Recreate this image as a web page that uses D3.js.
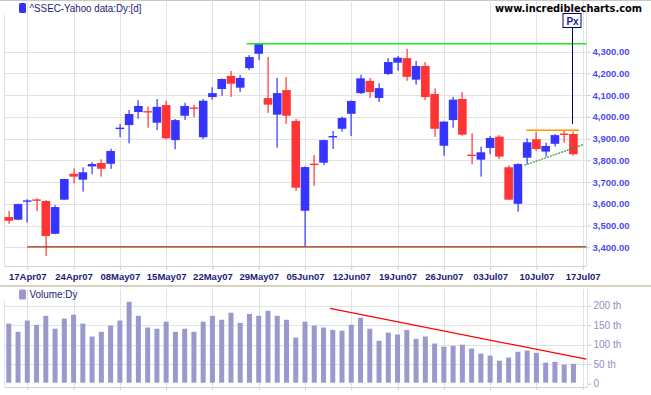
<!DOCTYPE html>
<html>
<head>
<meta charset="utf-8">
<script src="https://cdn.jsdelivr.net/npm/d3@7"></script>
<style>
  body { margin: 0; background: #fff; }
  svg text { font-family: "Liberation Sans", Arial, sans-serif; }
</style>
</head>
<body>
<svg id="chart" width="651" height="395"></svg>
<script>
// trading days, Shanghai composite, daily
var dates = ["2007-04-13","2007-04-16","2007-04-17","2007-04-18","2007-04-19","2007-04-20","2007-04-23","2007-04-24","2007-04-25","2007-04-26",
    "2007-04-27","2007-04-30","2007-05-08","2007-05-09","2007-05-10","2007-05-11","2007-05-14","2007-05-15","2007-05-16","2007-05-17",
    "2007-05-18","2007-05-21","2007-05-22","2007-05-23","2007-05-24","2007-05-25","2007-05-28","2007-05-29","2007-05-30","2007-05-31",
    "2007-06-01","2007-06-04","2007-06-05","2007-06-06","2007-06-07","2007-06-08","2007-06-11","2007-06-12","2007-06-13","2007-06-14",
    "2007-06-15","2007-06-18","2007-06-19","2007-06-20","2007-06-21","2007-06-22","2007-06-25","2007-06-26","2007-06-27","2007-06-28",
    "2007-06-29","2007-07-02","2007-07-03","2007-07-04","2007-07-05","2007-07-06","2007-07-09","2007-07-10","2007-07-11","2007-07-12",
    "2007-07-13","2007-07-16"];
var opens  = [3539,3527,3611,3618,3613,3462,3619,3738,3711,3772,3788,3784,3945,3962,4022,4025,3973,4054,3893,4005,
              4041,3906,4091,4128,4188,4134,4224,4290,4086,4010,4123,3981,3568,3783,3789,3907,3945,4014,4109,4165,
              4087,4197,4249,4270,4171,4234,4105,3867,3985,4082,3824,3803,3857,3909,3768,3600,3812,3897,3840,3876,
              3921,3921];
var highs  = [3567,3601,3621,3625,3617,3594,3716,3763,3768,3791,3805,3853,3967,4031,4077,4047,4082,4074,3990,4065,
              4056,4082,4136,4176,4211,4192,4284,4338,4275,4179,4183,3990,3772,3824,3895,3935,4001,4075,4194,4179,
              4155,4270,4280,4312,4257,4252,4131,3980,4092,4114,3924,3863,3912,3916,3777,3786,3901,3932,3881,3920,
              3939,3932];
var lows   = [3508,3525,3513,3567,3360,3460,3617,3694,3656,3736,3725,3761,3906,3878,3991,3950,3939,3897,3851,3985,
              3998,3897,4079,4097,4092,4114,4215,4261,4018,3858,3968,3659,3404,3683,3778,3852,3932,3912,4105,4087,
              4068,4192,4212,4166,4148,4077,3908,3821,3950,3913,3782,3725,3828,3805,3619,3564,3782,3844,3817,3863,
              3881,3821];
var closes = [3522,3599,3614,3616,3452,3585,3714,3725,3745,3783,3761,3843,3949,4013,4050,4021,4046,3901,3985,4050,
              4039,4074,4109,4174,4152,4179,4275,4336,4056,4109,4005,3674,3769,3780,3893,3910,3995,4073,4177,4114,
              4132,4252,4272,4184,4234,4091,3945,3978,4079,3918,3822,3837,3903,3817,3619,3783,3883,3852,3866,3916,
              3919,3828];
// volume, thousands
var volumes = [154,133,162,151,174,141,167,177,154,121,133,149,162,210,174,144,141,159,133,141,
               133,159,174,164,182,156,179,174,187,174,164,118,159,149,144,138,136,151,169,141,
               110,131,126,138,115,121,103,95,97,100,90,77,72,59,67,82,85,79,54,56,49,51];

var tickDates  = ["2007-04-17","2007-04-24","2007-05-08","2007-05-15","2007-05-22","2007-05-29","2007-06-05",
                  "2007-06-12","2007-06-19","2007-06-26","2007-07-03","2007-07-10","2007-07-17"];
var tickLabels = ["17Apr07","24Apr07","08May07","15May07","22May07","29May07","05Jun07",
                  "12Jun07","19Jun07","26Jun07","03Jul07","10Jul07","17Jul07"];
var priceTicks = [3400,3500,3600,3700,3800,3900,4000,4100,4200,4300];
var volTicks = [0,50,100,150,200];
var volTickLabels = ["0","50 th","100 th","150 th","200 th"];

// drawn lines, in bar index / value
var resistance = [{i: 25.7, v: 4336}, {i: 62.4, v: 4336}];
var support    = [{i: 2.0, v: 3402}, {i: 62.4, v: 3402}];
var flagTop    = [{i: 55.9, v: 3938}, {i: 61.6, v: 3938}];
var flagBottom = [{i: 55.7, v: 3777}, {i: 62.1, v: 3873}];
var volTrend   = [{i: 34.7, v: 193}, {i: 62.4, v: 63}];
var pxMarker   = {i: 61, v: 3967};

var svg = d3.select('#chart');
var left = 4.5, right = 586.5;
var pTop = 2, pBottom = 266, vTop = 289, vBottom = 387;

// bar index -> x  (17Jul07 is one step past the last bar)
var tickIndex = tickDates.map(function (d) {
    var k = dates.indexOf(d);
    return k < 0 ? dates.length : k;
});
var xScale = d3.scaleLinear().domain([0, 62]).range([8.79, 582.7]);
var yScale = d3.scaleLinear().domain([3400, 4300]).range([247.3, 51.6]);
var vScale = d3.scaleLinear().domain([0, 200]).range([383.7, 305.7]);

var grid = '#e2e2e2';

// frame / separators
svg.append('rect').attr('x', 0).attr('y', 0).attr('width', 651).attr('height', 1).attr('fill', '#c8c8c8');
svg.append('rect').attr('x', 0).attr('y', 285).attr('width', 651).attr('height', 2).attr('fill', '#d6d2c2');

// grid, price panel
svg.selectAll('.hg').data(priceTicks).enter().append('line')
    .attr('x1', left).attr('x2', right)
    .attr('y1', function (d) { return Math.round(yScale(d)) + 0.5; })
    .attr('y2', function (d) { return Math.round(yScale(d)) + 0.5; })
    .attr('stroke', grid);
svg.selectAll('.vg').data(tickIndex).enter().append('line')
    .attr('x1', function (d) { return Math.round(xScale(d)) + 0.5; })
    .attr('x2', function (d) { return Math.round(xScale(d)) + 0.5; })
    .attr('y1', pTop).attr('y2', pBottom)
    .attr('stroke', grid);
svg.append('line').attr('x1', left).attr('x2', left).attr('y1', 15).attr('y2', pBottom).attr('stroke', grid);
svg.append('line').attr('x1', right).attr('x2', right).attr('y1', pTop).attr('y2', pBottom).attr('stroke', grid);

// grid, volume panel
svg.selectAll('.vhg').data(volTicks.slice(1)).enter().append('line')
    .attr('x1', left).attr('x2', right)
    .attr('y1', function (d) { return Math.round(vScale(d)) + 0.5; })
    .attr('y2', function (d) { return Math.round(vScale(d)) + 0.5; })
    .attr('stroke', grid);
svg.selectAll('.vvg').data(tickIndex).enter().append('line')
    .attr('x1', function (d) { return Math.round(xScale(d)) + 0.5; })
    .attr('x2', function (d) { return Math.round(xScale(d)) + 0.5; })
    .attr('y1', vTop).attr('y2', vBottom)
    .attr('stroke', grid);
svg.append('line').attr('x1', left).attr('x2', left).attr('y1', 300).attr('y2', vBottom).attr('stroke', grid);
svg.append('line').attr('x1', right + 1).attr('x2', right + 1).attr('y1', vTop).attr('y2', vBottom).attr('stroke', grid);

// x axes
var xAxis = d3.axisBottom(xScale).tickValues(tickIndex)
    .tickFormat(function (d, k) { return tickLabels[k]; })
    .tickSize(4).tickPadding(3);
var xg = svg.append('g').attr('transform', 'translate(0,' + pBottom + ')').call(xAxis);
xg.select('.domain').remove();
xg.selectAll('.tick line').attr('stroke', '#cccccc');
xg.selectAll('text').attr('fill', '#1c1c78').style('font-size', '9.5px').style('font-weight', 'bold');
svg.append('line').attr('x1', left).attr('x2', right).attr('y1', pBottom + 0.5).attr('y2', pBottom + 0.5).attr('stroke', '#d0d0d0');

var vxg = svg.append('g').attr('transform', 'translate(0,' + vBottom + ')')
    .call(d3.axisBottom(xScale).tickValues(tickIndex).tickFormat('').tickSize(3));
vxg.select('.domain').remove();
vxg.selectAll('.tick line').attr('stroke', '#cccccc');
svg.append('line').attr('x1', left).attr('x2', right + 1).attr('y1', vBottom + 0.5).attr('y2', vBottom + 0.5).attr('stroke', '#d0d0d0');

// y axes (right)
var yg = svg.append('g').attr('transform', 'translate(' + right + ',0)')
    .call(d3.axisRight(yScale).tickValues(priceTicks).tickFormat(d3.format(',.2f')).tickSize(4).tickPadding(2));
yg.select('.domain').remove();
yg.selectAll('.tick line').attr('stroke', '#cccccc');
yg.selectAll('text').attr('fill', '#4b4bf2').style('font-size', '9.5px').style('font-weight', 'bold');

var vyg = svg.append('g').attr('transform', 'translate(' + (right + 1) + ',0)')
    .call(d3.axisRight(vScale).tickValues(volTicks)
        .tickFormat(function (d, k) { return volTickLabels[k]; }).tickSize(4).tickPadding(2));
vyg.select('.domain').remove();
vyg.selectAll('.tick line').attr('stroke', '#cccccc');
vyg.selectAll('text').attr('fill', '#8f8fc4').style('font-size', '10px');

// candles
var bars = d3.range(dates.length).map(function (i) {
    return {i: i, o: opens[i], h: highs[i], l: lows[i], c: closes[i]};
});
var candle_fill = function (d) {
    return d.c < d.o ? '#ff3535' : '#3535ff';
};
var bodyW = 8.6;
var cg = svg.append('g');
cg.selectAll('.wick').data(bars).enter().append('rect')
    .attr('x', function (d) { return Math.round(xScale(d.i)) - 0.5; })
    .attr('width', 1.2)
    .attr('y', function (d) { return yScale(d.h); })
    .attr('height', function (d) { return yScale(d.l) - yScale(d.h); })
    .attr('fill', candle_fill);
cg.selectAll('.body').data(bars).enter().append('rect')
    .attr('x', function (d) { return xScale(d.i) - bodyW / 2; })
    .attr('width', bodyW)
    .attr('y', function (d) {
        var t = yScale(Math.max(d.o, d.c)), b = yScale(Math.min(d.o, d.c));
        return b - t < 1.4 ? (t + b) / 2 - 0.7 : t;
    })
    .attr('height', function (d) {
        return Math.max(1.4, yScale(Math.min(d.o, d.c)) - yScale(Math.max(d.o, d.c)));
    })
    .attr('fill', candle_fill);

// volume bars
svg.selectAll('.vol').data(volumes).enter().append('rect')
    .attr('x', function (d, i) { return xScale(i) - 2.5; })
    .attr('width', 5)
    .attr('y', function (d) { return vScale(d); })
    .attr('height', function (d) { return vScale(0) - vScale(d) - 1; })
    .attr('fill', '#9999cc');

// drawn lines
var line = d3.line().x(function (d) { return xScale(d.i); }).y(function (d) { return yScale(d.v); });
var vline = d3.line().x(function (d) { return xScale(d.i); }).y(function (d) { return vScale(d.v); });
svg.append('path').attr('d', line(resistance)).attr('stroke', '#1aee1a').attr('stroke-width', 1.3).attr('fill', 'none');
svg.append('path').attr('d', line(support)).attr('stroke', '#993300').attr('stroke-width', 1.3).attr('fill', 'none');
svg.append('path').attr('d', line(flagTop)).attr('stroke', '#ff9900').attr('stroke-width', 1.6).attr('fill', 'none');
svg.append('path').attr('d', line(flagBottom)).attr('stroke', '#1f8a1f').attr('stroke-width', 1.1)
    .attr('stroke-dasharray', '2,1').attr('fill', 'none');
svg.append('path').attr('d', vline(volTrend)).attr('stroke', '#ff0000').attr('stroke-width', 1.2).attr('fill', 'none');

// Px marker
var px = Math.round(xScale(pxMarker.i)) - 0.5;
svg.append('line').attr('x1', px).attr('x2', px).attr('y1', 27).attr('y2', yScale(pxMarker.v))
    .attr('stroke', '#000066').attr('stroke-width', 1);
svg.append('rect').attr('x', px - 9.5).attr('y', 13.5).attr('width', 18).attr('height', 14)
    .attr('fill', '#fff').attr('stroke', '#000066');
svg.append('text').attr('x', px).attr('y', 24.5).attr('text-anchor', 'middle')
    .attr('fill', '#1a1a99').style('font-size', '10px').style('font-weight', 'bold').text('Px');

// legends
svg.append('rect').attr('x', 19).attr('y', 3).attr('width', 7).attr('height', 10).attr('rx', 1.5).attr('fill', '#3333ff');
svg.append('text').attr('x', 29.5).attr('y', 12).attr('fill', '#1c1c78').style('font-size', '11px')
    .attr('textLength', 112).attr('lengthAdjust', 'spacingAndGlyphs').text('^SSEC-Yahoo data:Dy:[d]');
svg.append('rect').attr('x', 19).attr('y', 289.5).attr('width', 7).attr('height', 10).attr('rx', 1.5).attr('fill', '#9999cc');
svg.append('text').attr('x', 29.5).attr('y', 298).attr('fill', '#1c1c78').style('font-size', '11px')
    .attr('textLength', 48).attr('lengthAdjust', 'spacingAndGlyphs').text('Volume:Dy');

svg.append('text').attr('x', 495).attr('y', 12).attr('fill', '#000')
    .style('font-family', '"DejaVu Sans", Verdana, sans-serif').style('font-size', '10px').style('font-weight', 'bold')
    .attr('textLength', 147).attr('lengthAdjust', 'spacingAndGlyphs').text('www.incrediblecharts.com');
</script>
</body>
</html>
